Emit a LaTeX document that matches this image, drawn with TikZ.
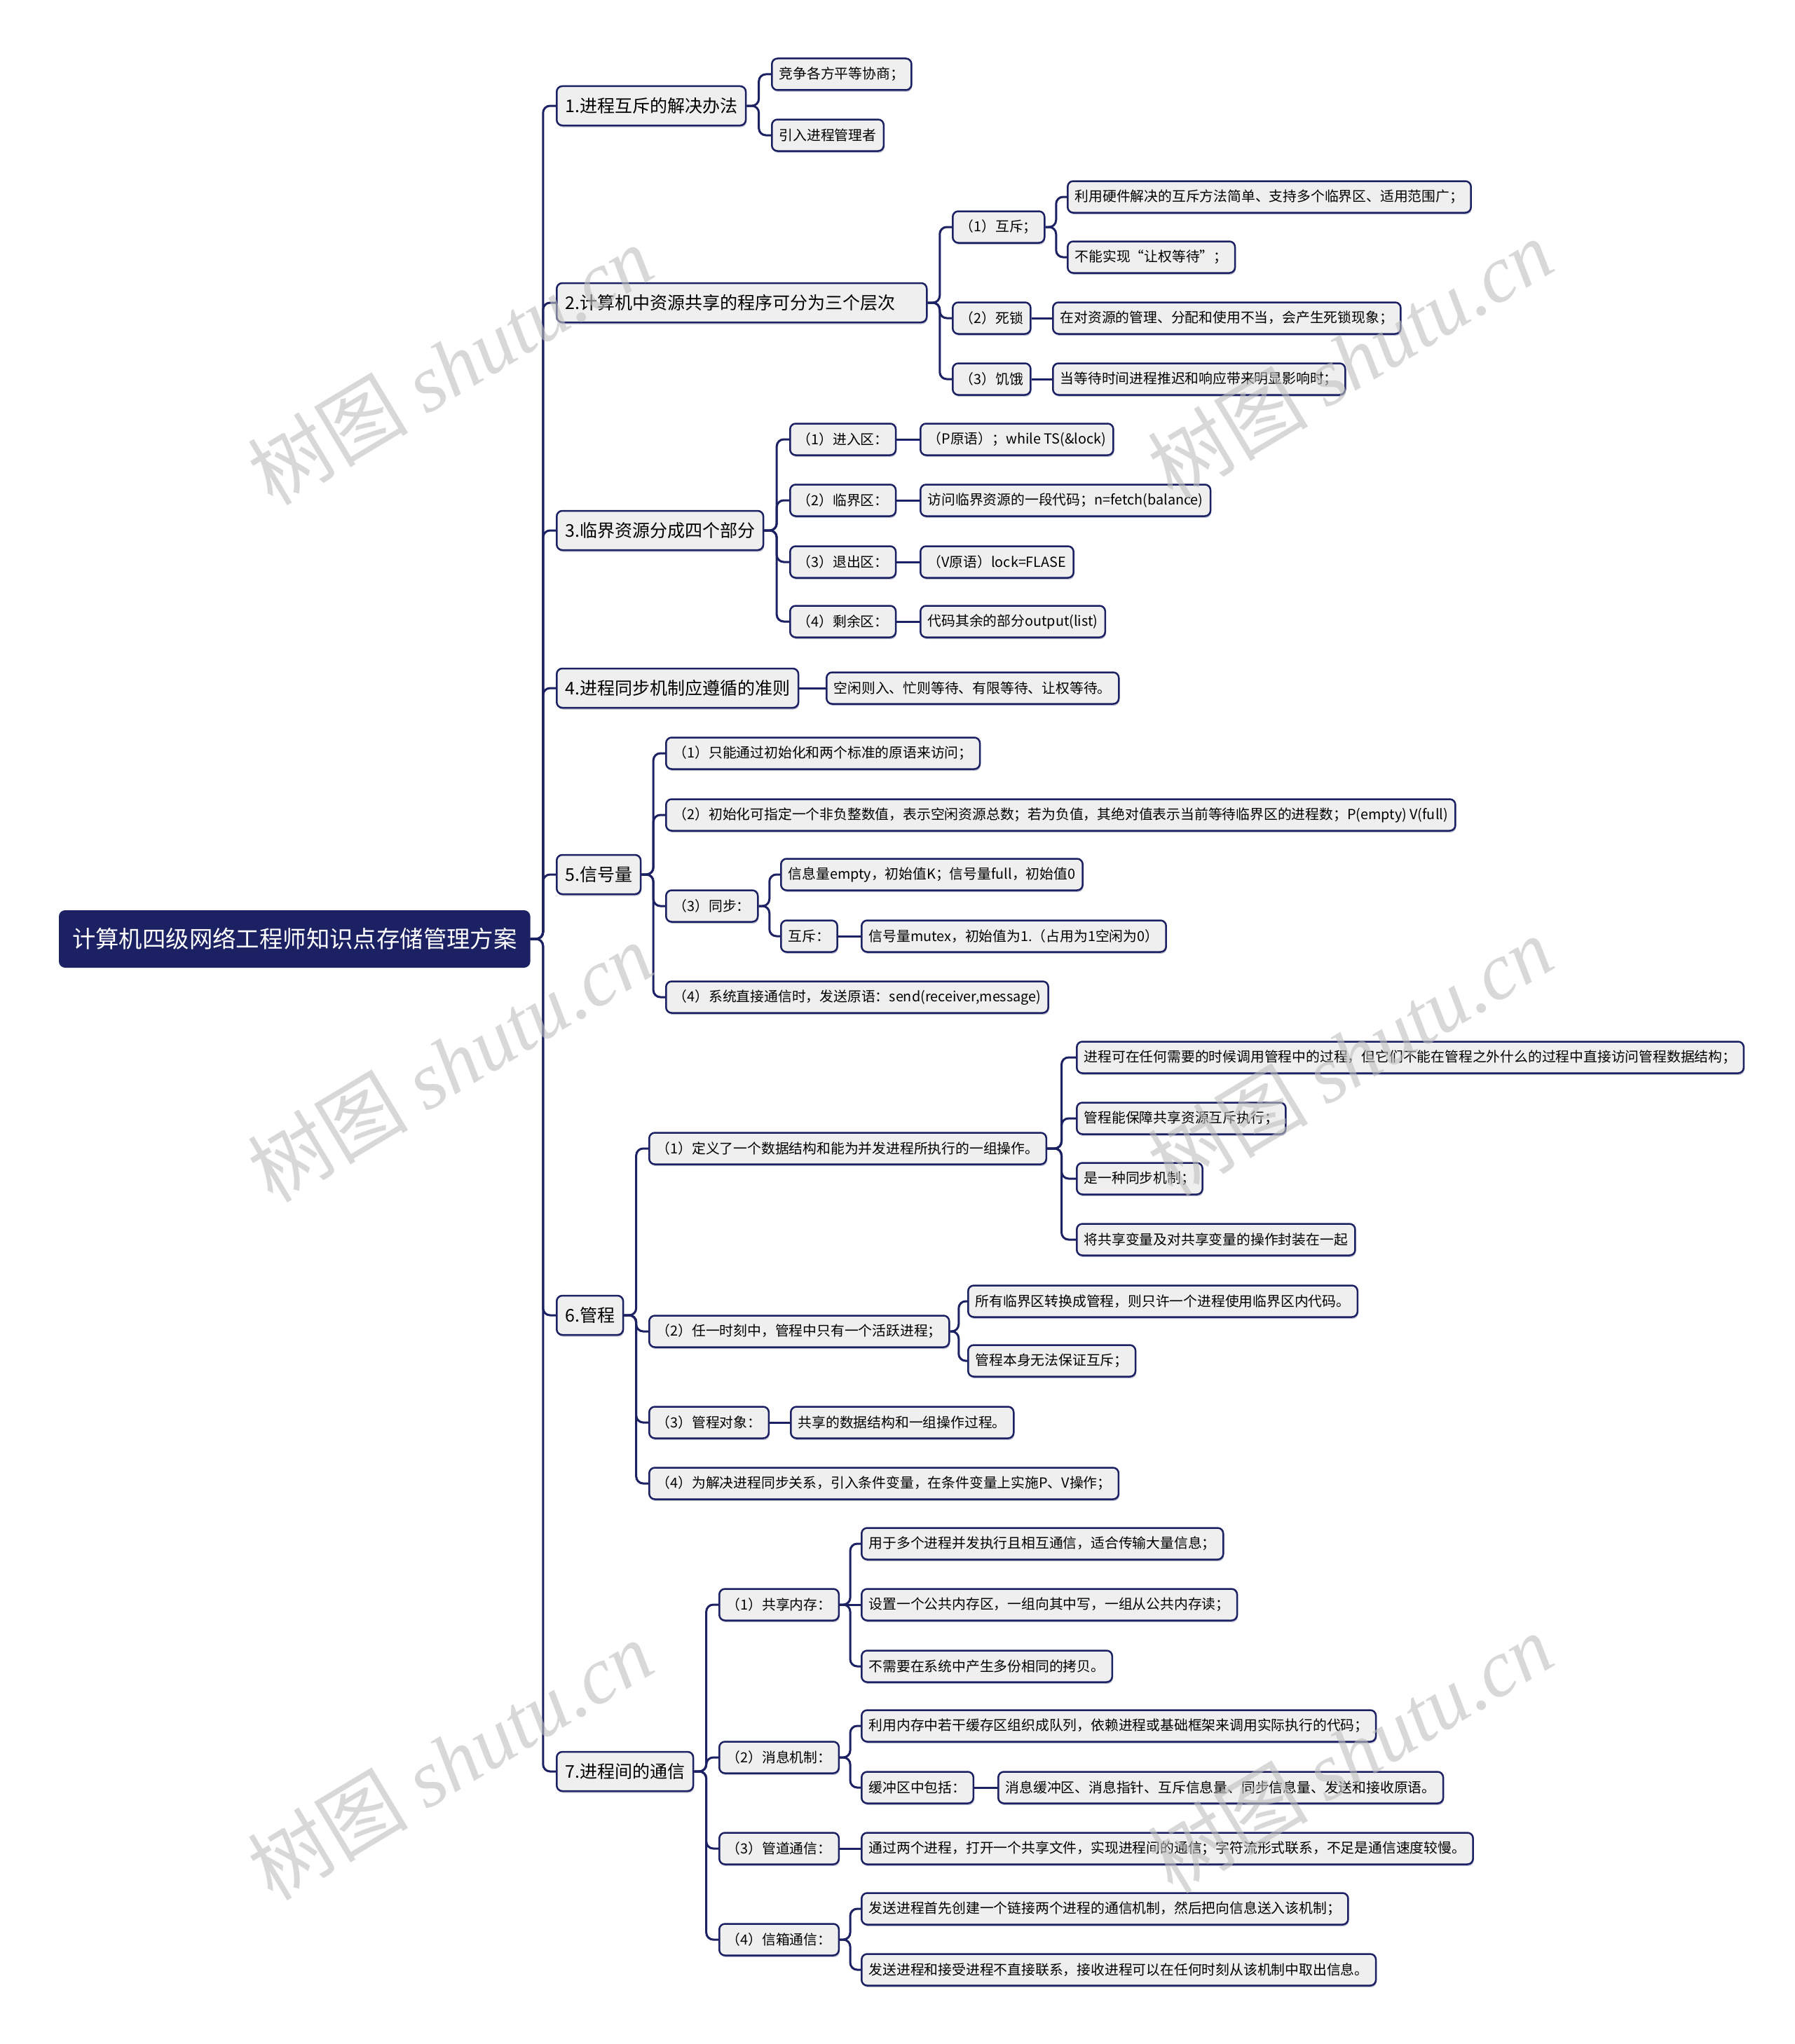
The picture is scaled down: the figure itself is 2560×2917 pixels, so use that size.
\documentclass[tikz,border=0pt]{standalone}
\usepackage{fontspec}
\setmainfont{Noto Sans CJK SC}
\newfontfamily\wmlatin{Liberation Serif}
\usetikzlibrary{calc, shadows}
\definecolor{navy}{HTML}{1C2163}
\definecolor{boxgray}{HTML}{EFEFEF}
\tikzset{
  rootbox/.style={draw=navy, fill=navy, text=white, rounded corners=8pt, line width=2pt,
    anchor=west, minimum height=80pt, inner xsep=18pt, font=\fontsize{33.4}{36}\selectfont},
  topic/.style={draw=navy, fill=boxgray, rounded corners=8pt, line width=2.5pt, anchor=west,
    minimum height=56pt, inner xsep=12pt, font=\fontsize{25}{28}\selectfont,
    drop shadow={shadow xshift=1pt, shadow yshift=-2.5pt, opacity=.3, fill=navy}},
  leaf/.style={topic, minimum height=45pt, inner xsep=10.5pt, font=\fontsize{19.8}{22}\selectfont},
  link/.style={draw=navy, line width=3pt, rounded corners=10pt},
  wm/.style={text=black!25, opacity=.6, rotate=31, font=\fontsize{115}{120}\selectfont}
}
\newcommand{\treelink}[2]{\draw[link] (#1.east) -- ($(#1.east)!.5!(#1.east -| #2.west)$) |- (#2.west);}
\newcommand{\flatlink}[2]{\draw[link] (#1.east) -- (#2.west);}

\begin{document}
\begin{tikzpicture}[x=1pt, y=-1pt]
  \fill[white] (0,0) rectangle (2560,2917);
  \useasboundingbox (0,0) rectangle (2560,2917);
  % root and topics
  \node[rootbox] (root) at (84,1340) {计算机四级网络工程师知识点存储管理方案};
  \node[topic] (t1) at (793,151) {1.进程互斥的解决办法};
  \node[topic, text width=504pt, align=left] (t2) at (793,432) {2.计算机中资源共享的程序可分为三个层次};
  \node[topic] (t3) at (793,757) {3.临界资源分成四个部分};
  \node[topic] (t4) at (793,982) {4.进程同步机制应遵循的准则};
  \node[topic] (t5) at (793,1248) {5.信号量};
  \node[topic] (t6) at (793,1877) {6.管程};
  \node[topic] (t7) at (793,2528) {7.进程间的通信};
  \foreach \i in {1,...,7} \treelink{root}{t\i};
  %
  \node[leaf] (t1a) at (1100,106) {竞争各方平等协商；};
  \node[leaf] (t1b) at (1100,193) {引入进程管理者};
  \foreach \c in {t1a,t1b} \treelink{t1}{\c};
  %
  \node[leaf] (t2a) at (1358,324) {（1）互斥；};
  \node[leaf] (t2a1) at (1522,281) {利用硬件解决的互斥方法简单、支持多个临界区、适用范围广；};
  \node[leaf] (t2a2) at (1522,367) {不能实现“让权等待”；};
  \node[leaf] (t2b) at (1358,454) {（2）死锁};
  \node[leaf] (t2b1) at (1501,454) {在对资源的管理、分配和使用不当，会产生死锁现象；};
  \node[leaf] (t2c) at (1358,541) {（3）饥饿};
  \node[leaf] (t2c1) at (1501,541) {当等待时间进程推迟和响应带来明显影响时；};
  \foreach \c in {t2a,t2b,t2c} \treelink{t2}{\c};
  \foreach \c in {t2a1,t2a2} \treelink{t2a}{\c};
  \flatlink{t2b}{t2b1}
  \flatlink{t2c}{t2c1}
  %
  \node[leaf] (t3a) at (1126,627) {（1）进入区：};
  \node[leaf] (t3a1) at (1312,627) {（P原语）；while TS(\&lock)};
  \node[leaf] (t3b) at (1126,714) {（2）临界区：};
  \node[leaf] (t3b1) at (1312,714) {访问临界资源的一段代码；n=fetch(balance)};
  \node[leaf] (t3c) at (1126,802) {（3）退出区：};
  \node[leaf] (t3c1) at (1312,802) {（V原语）lock=FLASE};
  \node[leaf] (t3d) at (1126,887) {（4）剩余区：};
  \node[leaf] (t3d1) at (1312,887) {代码其余的部分output(list)};
  \foreach \c in {a,b,c,d} {\treelink{t3}{t3\c} \flatlink{t3\c}{t3\c1}}
  %
  \node[leaf] (t4a) at (1178,982) {空闲则入、忙则等待、有限等待、让权等待。};
  \flatlink{t4}{t4a}
  %
  \node[leaf] (t5a) at (949,1075) {（1）只能通过初始化和两个标准的原语来访问；};
  \node[leaf] (t5b) at (949,1163) {（2）初始化可指定一个非负整数值，表示空闲资源总数；若为负值，其绝对值表示当前等待临界区的进程数；P(empty) V(full)};
  \node[leaf] (t5c) at (949,1293) {（3）同步：};
  \node[leaf] (t5c1) at (1113,1248) {信息量empty，初始值K；信号量full，初始值0};
  \node[leaf] (t5c2) at (1113,1336) {互斥：};
  \node[leaf] (t5c21) at (1228,1336) {信号量mutex，初始值为1.（占用为1空闲为0）};
  \node[leaf] (t5d) at (949,1423) {（4）系统直接通信时，发送原语：send(receiver,message)};
  \foreach \c in {t5a,t5b,t5c,t5d} \treelink{t5}{\c};
  \foreach \c in {t5c1,t5c2} \treelink{t5c}{\c};
  \flatlink{t5c2}{t5c21}
  %
  \node[leaf] (t6a) at (925,1639) {（1）定义了一个数据结构和能为并发进程所执行的一组操作。};
  \node[leaf] (t6a1) at (1535,1509) {进程可在任何需要的时候调用管程中的过程，但它们不能在管程之外什么的过程中直接访问管程数据结构；};
  \node[leaf] (t6a2) at (1535,1596) {管程能保障共享资源互斥执行；};
  \node[leaf] (t6a3) at (1535,1682) {是一种同步机制；};
  \node[leaf] (t6a4) at (1535,1769) {将共享变量及对共享变量的操作封装在一起};
  \node[leaf] (t6b) at (925,1900) {（2）任一时刻中，管程中只有一个活跃进程；};
  \node[leaf] (t6b1) at (1380,1857) {所有临界区转换成管程，则只许一个进程使用临界区内代码。};
  \node[leaf] (t6b2) at (1380,1942) {管程本身无法保证互斥；};
  \node[leaf] (t6c) at (925,2030) {（3）管程对象：};
  \node[leaf] (t6c1) at (1127,2030) {共享的数据结构和一组操作过程。};
  \node[leaf] (t6d) at (925,2117) {（4）为解决进程同步关系，引入条件变量，在条件变量上实施P、V操作；};
  \foreach \c in {t6a,t6b,t6c,t6d} \treelink{t6}{\c};
  \foreach \c in {t6a1,t6a2,t6a3,t6a4} \treelink{t6a}{\c};
  \foreach \c in {t6b1,t6b2} \treelink{t6b}{\c};
  \flatlink{t6c}{t6c1}
  %
  \node[leaf] (t7a) at (1025,2290) {（1）共享内存：};
  \node[leaf] (t7a1) at (1228,2203) {用于多个进程并发执行且相互通信，适合传输大量信息；};
  \node[leaf] (t7a2) at (1228,2290) {设置一个公共内存区，一组向其中写，一组从公共内存读；};
  \node[leaf] (t7a3) at (1228,2378) {不需要在系统中产生多份相同的拷贝。};
  \node[leaf] (t7b) at (1025,2508) {（2）消息机制：};
  \node[leaf] (t7b1) at (1228,2463) {利用内存中若干缓存区组织成队列，依赖进程或基础框架来调用实际执行的代码；};
  \node[leaf] (t7b2) at (1228,2551) {缓冲区中包括：};
  \node[leaf] (t7b21) at (1423,2551) {消息缓冲区、消息指针、互斥信息量、同步信息量、发送和接收原语。};
  \node[leaf] (t7c) at (1025,2638) {（3）管道通信：};
  \node[leaf] (t7c1) at (1228,2638) {通过两个进程，打开一个共享文件，实现进程间的通信；字符流形式联系，不足是通信速度较慢。};
  \node[leaf] (t7d) at (1025,2768) {（4）信箱通信：};
  \node[leaf] (t7d1) at (1228,2724) {发送进程首先创建一个链接两个进程的通信机制，然后把向信息送入该机制；};
  \node[leaf] (t7d2) at (1228,2811) {发送进程和接受进程不直接联系，接收进程可以在任何时刻从该机制中取出信息。};
  \foreach \c in {t7a,t7b,t7c,t7d} \treelink{t7}{\c};
  \foreach \c in {t7a1,t7a3} \treelink{t7a}{\c};
  \flatlink{t7a}{t7a2}
  \foreach \c in {t7b1,t7b2} \treelink{t7b}{\c};
  \flatlink{t7b2}{t7b21}
  \flatlink{t7c}{t7c1}
  \foreach \c in {t7d1,t7d2} \treelink{t7d}{\c};
  % watermarks
  \node[wm] (w1) at (642,521) {树图 {\wmlatin\itshape shutu.cn}};
  \node[wm] (w2) at (1926,512) {树图 {\wmlatin\itshape shutu.cn}};
  \node[wm] (w3) at (642,1516) {树图 {\wmlatin\itshape shutu.cn}};
  \node[wm] (w4) at (1926,1507) {树图 {\wmlatin\itshape shutu.cn}};
  \node[wm] (w5) at (642,2512) {树图 {\wmlatin\itshape shutu.cn}};
  \node[wm] (w6) at (1926,2502) {树图 {\wmlatin\itshape shutu.cn}};
\end{tikzpicture}
\end{document}
